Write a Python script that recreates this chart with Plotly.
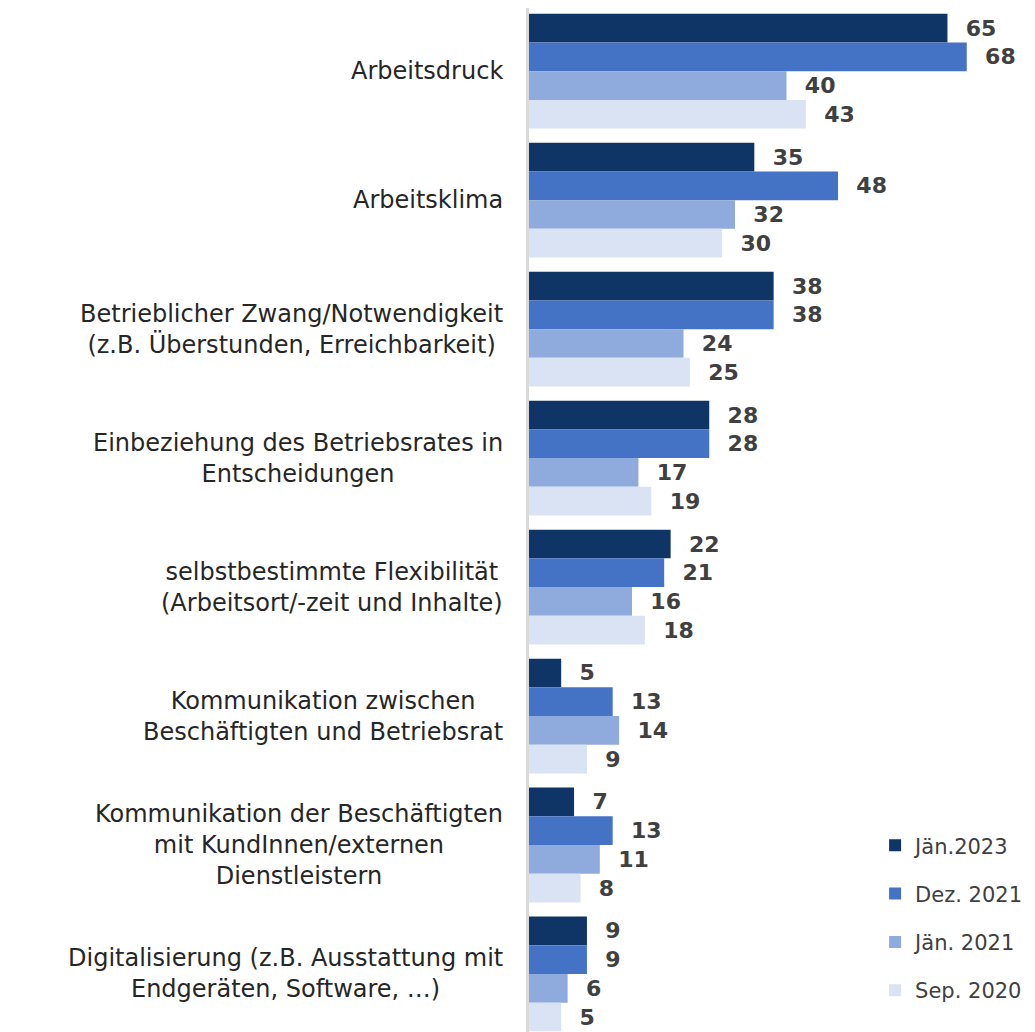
import plotly.graph_objects as go

# Kategorien (von oben nach unten)
categories = [
    "Arbeitsdruck",
    "Arbeitsklima",
    "Betrieblicher Zwang/Notwendigkeit<br>(z.B. Überstunden, Erreichbarkeit)",
    "Einbeziehung des Betriebsrates in<br>Entscheidungen",
    "selbstbestimmte Flexibilität<br>(Arbeitsort/-zeit und Inhalte)",
    "Kommunikation zwischen<br>Beschäftigten und Betriebsrat",
    "Kommunikation der Beschäftigten<br>mit KundInnen/externen<br>Dienstleistern",
    "Digitalisierung (z.B. Ausstattung mit<br>Endgeräten, Software, …)",
]

series_names = ["Jän.2023", "Dez. 2021", "Jän. 2021", "Sep. 2020"]
jan_2023 = [65, 35, 38, 28, 22, 5, 7, 9]
dez_2021 = [68, 48, 38, 28, 21, 13, 13, 9]
jan_2021 = [40, 32, 24, 17, 16, 14, 11, 6]
sep_2020 = [43, 30, 25, 19, 18, 9, 8, 5]

colors = ["#0E3566", "#4472C4", "#8FAADC", "#DAE3F3"]
font_name = "DejaVu Sans"

fig = go.Figure()
for name, vals, col in zip(series_names, [jan_2023, dez_2021, jan_2021, sep_2020], colors):
    fig.add_trace(go.Bar(
        y=list(range(len(categories))), x=vals, name=name, orientation="h",
        marker=dict(color=col, line=dict(width=0)),
        text=vals, texttemplate="\u00a0\u00a0%{x}", textposition="outside",
        constraintext="none", cliponaxis=False,
        textfont=dict(family=font_name, size=22, color="#404040", weight="bold"),
        legendgroup=name,
    ))

# Kategorie-Beschriftungen zentriert als Annotationen
for i, cat in enumerate(categories):
    fig.add_annotation(
        x=0, xref="paper", y=i, yref="y", text=cat, showarrow=False,
        xanchor="right", yanchor="middle", align="center", xshift=-24,
        font=dict(family=font_name, size=24, color="#262626"),
    )

# body hat 8px Rand -> Figur entsprechend kleiner
fig.update_layout(
    width=1027, height=1024,
    margin=dict(l=521, r=0, t=0, b=0),
    plot_bgcolor="white", paper_bgcolor="white",
    barmode="group", bargap=0.11, bargroupgap=0,
    showlegend=True,
    legend=dict(
        x=0.684, y=0.202, xanchor="left", yanchor="top",
        traceorder="grouped", tracegroupgap=18,
        font=dict(family=font_name, size=21, color="#404040"),
        itemwidth=30, bgcolor="rgba(0,0,0,0)",
    ),
    xaxis=dict(range=[0, 78.6], visible=False),
    yaxis=dict(
        range=[7.45, -0.49], showticklabels=False, showgrid=False,
        zeroline=False, showline=True, linecolor="#d9d9d9", linewidth=3,
        ticks="",
    ),
)

fig.write_html("out.html")
